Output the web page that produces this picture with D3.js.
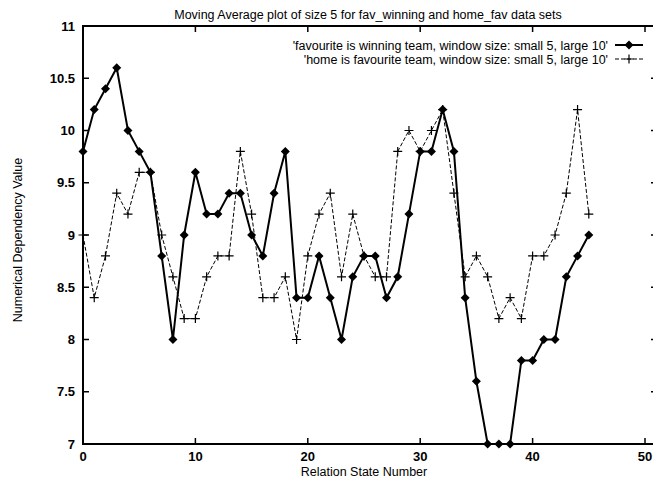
<!DOCTYPE html>
<html>
<head>
<meta charset="utf-8">
<script src="https://cdn.jsdelivr.net/npm/d3@7"></script>
<style>
  body { margin: 0; background: #fff; }
  svg { display: block; font-family: "Liberation Sans", Arial, sans-serif; }
</style>
</head>
<body>
<svg width="653" height="481"></svg>
<script>
// data
var states = [0,1,2,3,4,5,6,7,8,9,10,11,12,13,14,15,16,17,18,19,20,21,22,23,24,25,26,27,28,29,30,31,32,33,34,35,36,37,38,39,40,41,42,43,44,45];
var favWinning = [9.8,10.2,10.4,10.6,10.0,9.8,9.6,8.8,8.0,9.0,9.6,9.2,9.2,9.4,9.4,9.0,8.8,9.4,9.8,8.4,8.4,8.8,8.4,8.0,8.6,8.8,8.8,8.4,8.6,9.2,9.8,9.8,10.2,9.8,8.4,7.6,7.0,7.0,7.0,7.8,7.8,8.0,8.0,8.6,8.8,9.0];
var homeFav = [9.0,8.4,8.8,9.4,9.2,9.6,9.6,9.0,8.6,8.2,8.2,8.6,8.8,8.8,9.8,9.2,8.4,8.4,8.6,8.0,8.8,9.2,9.4,8.6,9.2,8.8,8.6,8.6,9.8,10.0,9.8,10.0,10.2,9.4,8.6,8.8,8.6,8.2,8.4,8.2,8.8,8.8,9.0,9.4,10.2,9.2];
var xTicks = [0,10,20,30,40,50];
var yTicks = [7,7.5,8,8.5,9,9.5,10,10.5,11];
var seriesNames = ["'favourite is winning team, window size: small 5, large 10'",
                   "'home is favourite team, window size: small 5, large 10'"];

var svg = d3.select('svg');
var pLeft = 83, pRight = 645, pTop = 26, pBottom = 444, frameRight = 657;

var x = d3.scaleLinear().domain([0, 50]).range([pLeft, pRight]);
var y = d3.scaleLinear().domain([7, 11]).range([pBottom, pTop]);

// title
svg.append('text').attr('x', 368).attr('y', 19).attr('text-anchor', 'middle')
   .attr('font-size', '12.5px').text('Moving Average plot of size 5 for fav_winning and home_fav data sets');

// frame (right side falls outside the picture)
svg.append('path').attr('d', 'M' + frameRight + ',' + pTop + 'H' + pLeft + 'V' + pBottom + 'H' + frameRight)
   .attr('fill', 'none').attr('stroke', '#000').attr('stroke-width', 2);

// ticks inward, mirrored
var tk = 6;
xTicks.forEach(function(t) {
  svg.append('line').attr('x1', x(t)).attr('x2', x(t)).attr('y1', pBottom).attr('y2', pBottom - tk).attr('stroke', '#000').attr('stroke-width', 1.5);
  svg.append('line').attr('x1', x(t)).attr('x2', x(t)).attr('y1', pTop).attr('y2', pTop + tk).attr('stroke', '#000').attr('stroke-width', 1.5);
  svg.append('text').attr('x', x(t)).attr('y', pBottom + 17).attr('text-anchor', 'middle')
     .attr('font-size', '13px').attr('font-weight', 'bold').text(t);
});
yTicks.forEach(function(t) {
  svg.append('line').attr('x1', pLeft).attr('x2', pLeft + tk).attr('y1', y(t)).attr('y2', y(t)).attr('stroke', '#000').attr('stroke-width', 1.5);
  svg.append('line').attr('x1', frameRight - tk).attr('x2', frameRight).attr('y1', y(t)).attr('y2', y(t)).attr('stroke', '#000').attr('stroke-width', 1.5);
  svg.append('text').attr('x', pLeft - 8).attr('y', y(t) + 4.5).attr('text-anchor', 'end')
     .attr('font-size', '13px').attr('font-weight', 'bold').text(t);
});

// axis labels
svg.append('text').attr('x', 364).attr('y', 476).attr('text-anchor', 'middle')
   .attr('font-size', '12.5px').text('Relation State Number');
svg.append('text').attr('transform', 'translate(22,240) rotate(-90)').attr('text-anchor', 'middle')
   .attr('font-size', '12.5px').text('Numerical Dependency Value');

var line = d3.line().x(function(d) { return x(d[0]); }).y(function(d) { return y(d[1]); });
var favPts = states.map(function(s, i) { return [s, favWinning[i]]; });
var homePts = states.map(function(s, i) { return [s, homeFav[i]]; });

svg.append('path').datum(homePts).attr('d', line).attr('fill', 'none')
   .attr('stroke', '#000').attr('stroke-width', 1).attr('stroke-dasharray', '4,2');
svg.append('path').datum(favPts).attr('d', line).attr('fill', 'none')
   .attr('stroke', '#000').attr('stroke-width', 2);

var dia = 4.5, pl = 4.5;
function diamond(cx, cy) {
  return 'M' + cx + ',' + (cy - dia) + 'L' + (cx + dia) + ',' + cy + 'L' + cx + ',' + (cy + dia) + 'L' + (cx - dia) + ',' + cy + 'Z';
}
function plus(cx, cy) {
  return 'M' + (cx - pl) + ',' + cy + 'H' + (cx + pl) + 'M' + cx + ',' + (cy - pl) + 'V' + (cy + pl);
}

svg.selectAll('.hm').data(homePts).enter().append('path').attr('class', 'hm')
   .attr('d', function(d) { return plus(x(d[0]), y(d[1])); })
   .attr('stroke', '#000').attr('stroke-width', 1.2).attr('fill', 'none');
svg.selectAll('.fm').data(favPts).enter().append('path').attr('class', 'fm')
   .attr('d', function(d) { return diamond(x(d[0]), y(d[1])); })
   .attr('fill', '#000');

// legend
var ly = [45, 59];
seriesNames.forEach(function(n, i) {
  svg.append('text').attr('x', 608).attr('y', ly[i] + 4.5).attr('text-anchor', 'end')
     .attr('font-size', '12.5px').text(n);
});
svg.append('line').attr('x1', 615).attr('x2', 643).attr('y1', ly[0]).attr('y2', ly[0]).attr('stroke', '#000').attr('stroke-width', 2);
svg.append('path').attr('d', diamond(629, ly[0])).attr('fill', '#000');
svg.append('line').attr('x1', 615).attr('x2', 643).attr('y1', ly[1]).attr('y2', ly[1]).attr('stroke', '#000').attr('stroke-width', 1).attr('stroke-dasharray', '4,2');
svg.append('path').attr('d', plus(629, ly[1])).attr('stroke', '#000').attr('stroke-width', 1.2);
</script>
</body>
</html>
